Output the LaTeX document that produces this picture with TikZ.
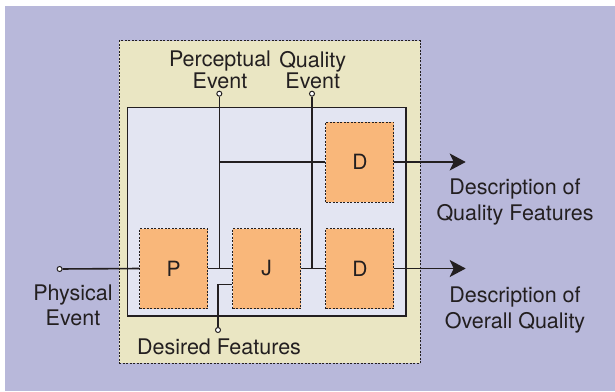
\documentclass[tikz,border=0pt]{standalone}
\usepackage{fontspec}
\setmainfont{TeX Gyre Heros}
\usetikzlibrary{arrows.meta}
\definecolor{backdrop}{HTML}{B8B8DA}
\definecolor{sand}{HTML}{EAE6C3}
\definecolor{mist}{HTML}{E3E5F2}
\definecolor{peach}{HTML}{F9B77A}
\definecolor{ink}{HTML}{231F20}
\tikzset{outer/.style={draw=ink,fill=sand,line width=1pt,dash pattern=on 2pt off 1.5pt,inner sep=0pt},
         inner/.style={draw=ink,fill=mist,line width=1.3pt,inner sep=0pt},
         block/.style={draw=ink,fill=peach,line width=1pt,dash pattern=on 2pt off 1.5pt,
                       minimum width=68pt,minimum height=80pt,text=ink,font=\fontsize{21}{24}\selectfont},
         term/.style={circle,draw=ink,fill=white,line width=1pt,inner sep=0pt,minimum size=5pt},
         lbl/.style={align=center,inner sep=0pt,text=ink,font=\fontsize{21.5}{25.5}\selectfont},
         wire/.style={draw=ink,line width=1.6pt},
        }

\begin{document}
\begin{tikzpicture}[x=1pt,y=-1pt]
        \useasboundingbox (0,0) rectangle (615,391);
        \fill[backdrop] (5,6) rectangle (615,391);
        \node[outer,minimum width=301pt,minimum height=322.6pt](frame)at(269.5,202){};
        \node[inner,minimum width=278.7pt,minimum height=208.3pt](model)at(266.6,211.9){};
        % blocks
        \node[block](p)at(173.7,268.5){P};
        \node[block](j)at(266.5,268.5){J};
        \node[block](dq)at(359.9,162){D};
        \node[block](dd)at(359.9,268.5){D};
        % terminals
        \node[term](phys)at(59.6,269){};
        \node[term](perc)at(219.3,93.7){};
        \node[term](qual)at(312,93.7){};
        \node[term](want)at(218,330){};
        % wires
        \draw[wire](phys)--(p.west);
        \draw[wire](p.east)--(j.west);
        \draw[wire](j.east)--(dd.west);
        \draw[wire](perc)--(perc|-p.east);
        \draw[wire](perc|-dq.west)--(dq.west);
        \draw[wire](qual)--(qual|-dd.west);
        \draw[wire](want)|-([yshift=-16pt]j.west);
        \coordinate(outq)at(465.7,162);
        \coordinate(outd)at(465.7,268.5);
        \draw[wire,-{Stealth[length=16pt,width=17pt,inset=4pt]}](dq.east)--(outq);
        \draw[wire,-{Stealth[length=16pt,width=17pt,inset=4pt]}](dd.east)--(outd);
        % labels
        \node[lbl,font=\fontsize{21.5}{19.5}\selectfont,anchor=north](perclbl)at(220,51){Perceptual\\Event};
        \node[lbl,font=\fontsize{21.5}{19.5}\selectfont,anchor=north](quallbl)at(312.7,51){Quality\\Event};
        \node[lbl,anchor=north](physlbl)at(73,284.5){Physical\\Event};
        \node[lbl,anchor=north](wantlbl)at(219,339){Desired Features};
        \node[lbl,anchor=north](qfeat)at(515,179){Description of\\Quality Features};
        \node[lbl,anchor=north](oqual)at(515,287){Description of\\Overall Quality};
    \end{tikzpicture}
\end{document}
